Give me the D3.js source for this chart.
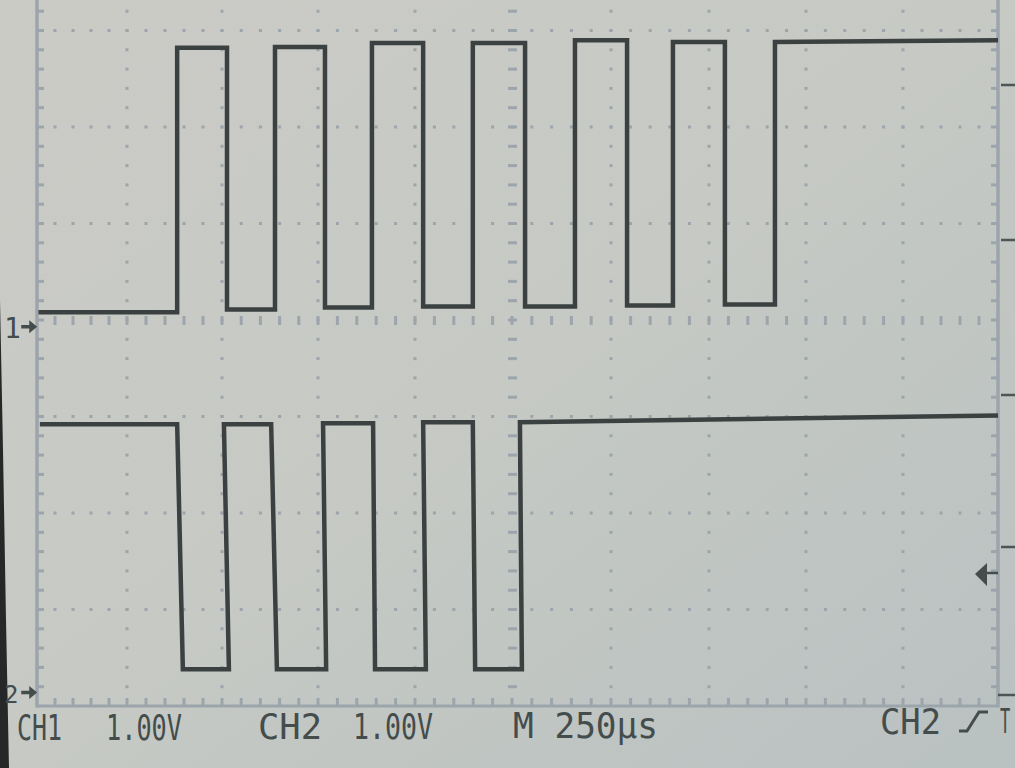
<!DOCTYPE html>
<html><head><meta charset="utf-8">
<script src="https://cdn.jsdelivr.net/npm/d3@7"></script>
<style>html,body{margin:0;padding:0;background:#c6c9c4;overflow:hidden}</style>
</head><body>
<svg id="c" width="1015" height="768"></svg>
<script>
// ---- data (time in µs, 250 µs/div; volts, 1.00 V/div) ----
const timeTicks = [0, 250, 500, 750, 1000, 1250, 1500, 1750, 2000, 2250, 2500];
const voltDivs = [-4, -3, -2, -1, 0, 1, 2, 3, 4];
const ch1Offset = -0.07;   // ground marker position, divisions
const ch2Offset = -3.86;
// trace vertices [time µs, volts]
const ch1Trace = [
  [4,0.15],[382,0.15],[382,2.89],[513,2.89],[513,0.18],[638,0.18],[638,2.90],[768,2.90],
  [768,0.20],[889,0.20],[889,2.94],[1021,2.94],[1021,0.21],[1149,0.21],[1149,2.94],[1283,2.94],
  [1283,0.21],[1409,0.21],[1409,2.97],[1541,2.97],[1541,0.22],[1658,0.22],[1658,2.95],[1791,2.95],
  [1791,0.23],[1920,0.23],[1920,2.95],[2500,2.97]
];
const ch2Trace = [
  [8,2.78],[382,2.78],[397,0.24],[518,0.24],[505,2.78],[628,2.78],[643,0.24],[771,0.24],
  [763,2.79],[892,2.79],[897,0.24],[1028,0.24],[1021,2.80],[1149,2.80],[1155,0.24],[1275,0.24],
  [1270,2.80],[2500,2.87]
];
const ch1Label = ["CH1", "1.00V"];
const ch2Label = ["CH2", "1.00V"];
const timeLabel = "M 250µs";
const trigLabel = "CH2";

// ---- drawing ----
const svg = d3.select("#c");
const W = 1015, H = 768;
const defs = svg.append("defs");
const g1 = defs.append("linearGradient").attr("id","bg").attr("x1","0").attr("y1","0").attr("x2","1").attr("y2","1");
g1.append("stop").attr("offset","0").attr("stop-color","#cbcbc6");
g1.append("stop").attr("offset","0.5").attr("stop-color","#c6c9c4");
g1.append("stop").attr("offset","1").attr("stop-color","#b9c1c1");
svg.append("rect").attr("width",W).attr("height",H).attr("fill","url(#bg)");

const x = d3.scaleLinear().domain(timeTicks).range([37,127,222,318,415,512,611,709,806,903,998]);
const y = d3.scaleLinear().domain([-4,4]).range([706,-66]);

const gridCol = "#9ca5ac";
const grid = svg.append("g");
const minorT = d3.range(0, 2500.1, 50);
const minorV = d3.range(-4, 4.001, 0.2).filter(v => v > -3.99);

// dotted major grid lines
timeTicks.filter(t => t > 0 && t < 2500 && t !== 1250).forEach(t => {
  grid.selectAll(null).data(minorV).join("rect")
    .attr("x", x(t)-1.5).attr("y", v => y(v)-1.5).attr("width",3).attr("height",3).attr("fill",gridCol);
});
voltDivs.filter(v => v > -4 && v < 4 && v !== 0).forEach(v => {
  grid.selectAll(null).data(minorT.filter(t => t > 0 && t < 2500)).join("rect")
    .attr("x", t => x(t)-1.5).attr("y", y(v)-1.5).attr("width",3).attr("height",3).attr("fill",gridCol);
});
// center axes with ticks
grid.selectAll(null).data(minorT.filter(t => t > 0 && t < 2500)).join("rect")
  .attr("x", t => x(t)-1.5).attr("y", y(0)-4).attr("width",3).attr("height",9).attr("fill",gridCol);
grid.selectAll(null).data(minorV).join("rect")
  .attr("x", x(1250)-4).attr("y", v => y(v)-1.5).attr("width",9).attr("height",3).attr("fill",gridCol);
// borders
grid.append("line").attr("x1",x(0)).attr("x2",x(0)).attr("y1",0).attr("y2",y(-4)+1.5)
  .attr("stroke",gridCol).attr("stroke-width",3.5);
grid.append("line").attr("x1",x(2500)).attr("x2",x(2500)).attr("y1",0).attr("y2",y(-4)+1.5)
  .attr("stroke",gridCol).attr("stroke-width",3.5);
grid.append("line").attr("x1",x(0)).attr("x2",x(2500)).attr("y1",y(-4)).attr("y2",y(-4))
  .attr("stroke",gridCol).attr("stroke-width",3);
// border ticks
grid.selectAll(null).data(minorV).join("rect")
  .attr("x", x(0)).attr("y", v => y(v)-1.5).attr("width",7).attr("height",3).attr("fill",gridCol);
grid.selectAll(null).data(minorV).join("rect")
  .attr("x", x(2500)-7).attr("y", v => y(v)-1.5).attr("width",7).attr("height",3).attr("fill",gridCol);
grid.selectAll(null).data(minorT.filter(t => t > 0 && t < 2500)).join("rect")
  .attr("x", t => x(t)-1.5).attr("y", y(-4)-8).attr("width",3).attr("height",8).attr("fill",gridCol);

// right-side menu separators
const sepCol = "#4d5555";
[85, 240, 395, 547].forEach(yy => {
  svg.append("line").attr("x1",1001).attr("x2",W).attr("y1",yy).attr("y2",yy)
    .attr("stroke",sepCol).attr("stroke-width",2.5);
});
svg.append("line").attr("x1",998).attr("x2",W).attr("y1",695).attr("y2",695)
  .attr("stroke",sepCol).attr("stroke-width",2.5);

// traces
const traceCol = "#3b4141";
function drawTrace(data, off) {
  const line = d3.line().x(d => x(d[0])).y(d => y(off + d[1]));
  svg.append("path").datum(data).attr("d", line).attr("fill","none")
    .attr("stroke",traceCol).attr("stroke-width",4.5).attr("stroke-linejoin","miter");
}
drawTrace(ch1Trace, ch1Offset);
drawTrace(ch2Trace, ch2Offset);

// left dark edge of screen bezel
svg.append("path").attr("d","M0,300 L3,450 L6,620 L9,768 L0,768 Z").attr("fill","#262828");

// channel ground markers
const txtCol = "#444c4c";
function marker(off, sz) {
  const yy = y(off);
  svg.append("text").attr("x",4).attr("y",yy+11).attr("font-family","DejaVu Sans Mono")
    .attr("font-size",sz).attr("fill",txtCol).text(off === ch1Offset ? "1" : "2");
  svg.append("path").attr("d",`M22,${yy-1} L30,${yy-1} L30,${yy-5} L36,${yy} L30,${yy+5} L30,${yy+1} L22,${yy+1} Z`)
    .attr("fill",txtCol).attr("stroke",txtCol).attr("stroke-width",1.5);
}
marker(ch1Offset, 28);
marker(ch2Offset, 24);

// trigger level marker (right)
const ty = 574;
svg.append("path").attr("d",`M975,${ty} L987,${ty-11} L987,${ty+12} Z`).attr("fill",txtCol);
svg.append("line").attr("x1",985).attr("x2",998).attr("y1",ty-1).attr("y2",ty-1).attr("stroke",txtCol).attr("stroke-width",2.5);

// bottom readout
const font = "DejaVu Sans Mono";
function label(str, x0, x1, base, size) {
  svg.append("text").attr("x",x0).attr("y",base).attr("font-family",font).attr("font-size",size || 35)
    .attr("fill",txtCol).attr("textLength",x1-x0).attr("lengthAdjust","spacingAndGlyphs").text(str);
}
label(ch1Label[0], 17, 62, 740);
label(ch1Label[1], 106, 182, 740);
label(ch2Label[0], 258, 322, 739);
label(ch2Label[1], 353, 433, 739);
label(timeLabel, 513, 658, 738);
label(trigLabel, 880, 941, 734);
// trigger slope symbol
svg.append("path").attr("d","M959,731 L967,731 L979,712 L988,712").attr("fill","none")
  .attr("stroke",txtCol).attr("stroke-width",3);
svg.append("text").attr("transform","translate(1000,733) scale(0.5,1)")
  .attr("font-family",font).attr("font-size",34).attr("fill",txtCol).text("T");
</script>
</body></html>
